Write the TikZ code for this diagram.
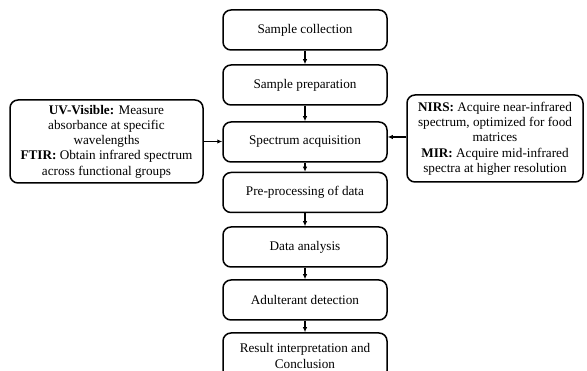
\documentclass[tikz,border=0pt]{standalone}
\usepackage{fontspec}
\setmainfont{Liberation Serif}
\usetikzlibrary{arrows.meta}
\begin{document}
\begin{tikzpicture}[x=1pt,y=-1pt,
  box/.style={draw=black, line width=1.5pt, rounded corners=8pt, fill=white,
    inner sep=0pt, align=center, font=\fontsize{13.2}{15.3}\selectfont},
  mainbox/.style={box, minimum width=164pt, minimum height=40pt},
  arr/.style={line width=1.3pt, -{Latex[length=5pt,width=4.5pt]}}]
\useasboundingbox (0,0) rectangle (587,371);
\node[mainbox] (s1) at (305,30) {Sample collection};
\node[mainbox] (s2) at (305,85) {Sample preparation};
\node[mainbox] (s3) at (305,142) {Spectrum acquisition};
\node[mainbox] (s4) at (305,192.5) {Pre-processing of data};
\node[mainbox] (s5) at (305,247) {Data analysis};
\node[mainbox] (s6) at (305,300) {Adulterant detection};
\node[mainbox, minimum height=46pt] (s7) at (305,356) {Result interpretation and\\Conclusion};
\node[box, minimum width=193pt, minimum height=83pt] (lb) at (106.5,141.5)
  {\textbf{UV-Visible:} Measure\\absorbance at specific\\wavelengths\\\textbf{FTIR:} Obtain infrared spectrum\\across functional groups};
\node[box, minimum width=176pt, minimum height=87pt] (rb) at (495,138.5)
  {\textbf{NIRS:} Acquire near-infrared\\spectrum, optimized for food\\matrices\\\textbf{MIR:} Acquire mid-infrared\\spectra at higher resolution};
\draw[arr] (s1) -- (s2);
\draw[arr] (s2) -- (s3);
\draw[arr] (s3) -- (s4);
\draw[arr] (s4) -- (s5);
\draw[arr] (s5) -- (s6);
\draw[arr] (s6) -- (s7);
\draw[arr] (lb.east) -- (lb.east -| s3.west);
\coordinate (rin) at ([yshift=1.5pt]rb.west);
\draw[arr] (rin) -- (rin -| s3.east);
\end{tikzpicture}
\end{document}
